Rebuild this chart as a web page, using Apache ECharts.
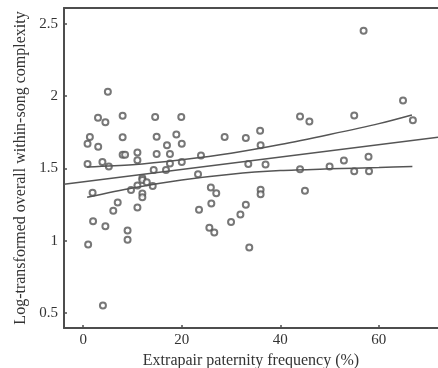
<!DOCTYPE html>
<html>
<head>
<meta charset="utf-8">
<script src="https://cdn.jsdelivr.net/npm/echarts@6/dist/echarts.min.js"></script>
<style>html,body{margin:0;padding:0;background:#fff}#c{width:438px;height:368px}</style>
</head>
<body>
<div id="c"></div>
<script>
// Data
var epfX = [5.0,3.0,4.5,8.0,14.6,19.9,1.35,0.88,3.04,8.0,14.9,18.9,17.0,20.0,28.7,33.0,8.0,8.5,11.0,14.9,17.6,23.9,11.0,0.88,3.9,5.2,14.3,16.8,17.6,20.0,12.0,23.3,33.5,1.9,12.0,11.0,12.9,14.1,9.7,12.0,12.0,7.0,6.1,11.0,2.0,4.5,9.0,9.0,1.0,4.0,25.9,27.0,26.0,23.5,25.6,26.6,33.0,30.0,31.9,33.7,56.9,64.9,66.9,44.0,45.9,55.0,35.9,36.0,37.0,44.0,50.0,52.9,57.9,55.0,58.0,36.0,36.0,45.0];
var complexity = [2.03,1.85,1.82,1.864,1.855,1.855,1.718,1.67,1.65,1.716,1.72,1.734,1.66,1.67,1.718,1.71,1.594,1.594,1.61,1.60,1.60,1.59,1.557,1.53,1.545,1.513,1.49,1.49,1.534,1.544,1.433,1.46,1.53,1.331,1.42,1.382,1.405,1.378,1.35,1.327,1.30,1.264,1.207,1.23,1.135,1.10,1.07,1.006,0.974,0.552,1.368,1.329,1.257,1.214,1.089,1.057,1.248,1.129,1.181,0.953,2.452,1.97,1.834,1.859,1.824,1.866,1.76,1.66,1.527,1.495,1.513,1.555,1.58,1.481,1.481,1.352,1.322,1.345];
var fitX = [-3.9, 72];
var fitY = [1.39, 1.715];
var upperX = [0.8,10,20,30,40,50,60,66.7];
var upperY = [1.51,1.525,1.56,1.605,1.665,1.735,1.81,1.87];
var lowerX = [0.8,10,20,30,40,50,60,66.8];
var lowerY = [1.30,1.365,1.42,1.46,1.485,1.497,1.506,1.514];
var xTicks = [0,20,40,60];
var yTicks = [0.5,1,1.5,2,2.5];

function zip(a,b){return a.map(function(v,i){return [v,b[i]];});}

var ink = '#4d4d4d';
var txt = '#333';
var font = 'Liberation Serif';
var chart = echarts.init(document.getElementById('c'));
chart.setOption({
  animation:false,
  backgroundColor:'#fff',
  grid:{left:64,right:0,top:8,bottom:40,containLabel:false,outerBoundsMode:'none'},
  xAxis:[{
    type:'value',min:-3.9,max:72,position:'bottom',
    name:'Extrapair paternity frequency (%)',nameLocation:'middle',nameGap:21,
    nameTextStyle:{fontFamily:font,fontSize:16,color:txt},
    axisLine:{show:true,onZero:false,lineStyle:{color:ink,width:2}},
    axisTick:{show:true,inside:true,length:3,customValues:xTicks,lineStyle:{color:ink,width:1.5}},
    axisLabel:{customValues:xTicks,fontFamily:font,fontSize:15,color:txt,margin:5},
    splitLine:{show:false}
  },{
    type:'value',min:-3.9,max:72,position:'top',
    axisLine:{show:true,onZero:false,lineStyle:{color:ink,width:2}},
    axisTick:{show:false},axisLabel:{show:false},splitLine:{show:false}
  }],
  yAxis:[{
    type:'value',min:0.396,max:2.61,
    name:'Log-transformed overall within-song complexity',nameLocation:'middle',nameGap:34,
    nameTextStyle:{fontFamily:font,fontSize:16,color:txt},
    axisLine:{show:true,onZero:false,lineStyle:{color:ink,width:2}},
    axisTick:{show:true,inside:true,length:3,customValues:yTicks,lineStyle:{color:ink,width:1.5}},
    axisLabel:{customValues:yTicks,fontFamily:font,fontSize:15,color:txt,margin:6},
    splitLine:{show:false}
  }],
  series:[
    {type:'scatter',data:zip(epfX,complexity),symbol:'emptyCircle',symbolSize:6,
     itemStyle:{color:'#555',borderWidth:1.3}},
    {type:'line',data:zip(fitX,fitY),showSymbol:false,lineStyle:{color:'#555',width:1.5}},
    {type:'line',data:zip(upperX,upperY),showSymbol:false,smooth:0.3,lineStyle:{color:'#555',width:1.5}},
    {type:'line',data:zip(lowerX,lowerY),showSymbol:false,smooth:0.3,lineStyle:{color:'#555',width:1.5}}
  ]
});
</script>
</body>
</html>
